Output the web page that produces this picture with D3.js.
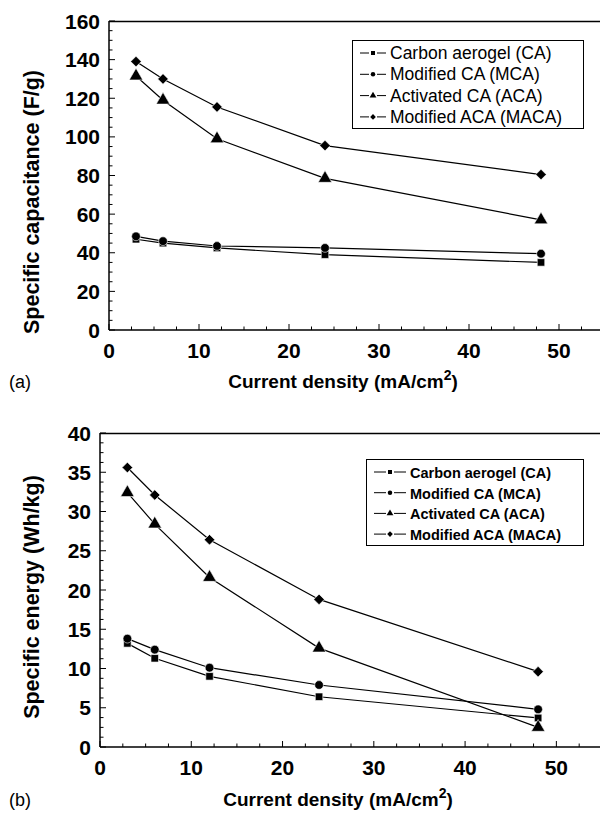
<!DOCTYPE html>
<html>
<head>
<meta charset="utf-8">
<script src="https://cdn.jsdelivr.net/npm/d3@7"></script>
<style>
  html, body { margin: 0; padding: 0; background: #fff; }
  svg { display: block; font-family: "Liberation Sans", Arial, Helvetica, sans-serif; }
</style>
</head>
<body>
<svg id="chart" width="600" height="816"></svg>
<script>
// ---------- DATA ----------
const currentDensity = [3, 6, 12, 24, 48];
const seriesNames = ["Carbon aerogel (CA)", "Modified CA (MCA)", "Activated CA (ACA)", "Modified ACA (MACA)"];
const seriesSymbols = ["square", "circle", "triangle", "diamond"];

// (a) Specific capacitance (F/g)
const capCA   = [47, 45, 42.5, 39, 35];
const capMCA  = [48.5, 46, 43.5, 42.5, 39.5];
const capACA  = [131.5, 119, 99, 78.5, 57];
const capMACA = [139, 130, 115.5, 95.5, 80.5];

// (b) Specific energy (Wh/kg)
const enCA   = [13.2, 11.3, 9.0, 6.4, 3.7];
const enMCA  = [13.8, 12.4, 10.1, 7.9, 4.8];
const enACA  = [32.4, 28.4, 21.6, 12.6, 2.5];
const enMACA = [35.6, 32.1, 26.4, 18.8, 9.6];

const xTicks = [0, 10, 20, 30, 40, 50];
const capTicks = [0, 20, 40, 60, 80, 100, 120, 140, 160];
const enTicks = [0, 5, 10, 15, 20, 25, 30, 35, 40];

// ---------- DRAW ----------
const svg = d3.select("#chart");

function symbolPath(kind, size) {
  if (kind === "square") return d3.symbol(d3.symbolSquare, size)();
  if (kind === "circle") return d3.symbol(d3.symbolCircle, size)();
  if (kind === "triangle") return d3.symbol(d3.symbolTriangle, size)();
  return d3.symbol(d3.symbolSquare, size)(); // diamond = rotated square
}

function drawPanel(cfg) {
  const g = svg.append("g");
  const x = d3.scaleLinear().domain([0, 55]).range(cfg.xr);
  const y = d3.scaleLinear().domain(cfg.ydom).range(cfg.yr);

  // top frame line
  g.append("line")
    .attr("x1", x(0)).attr("x2", 600)
    .attr("y1", y(cfg.ydom[1]) + 0.5).attr("y2", y(cfg.ydom[1]) + 0.5)
    .attr("stroke", "#000").attr("stroke-width", 1.5);

  // x axis (ticks inward)
  const xMinor = d3.range(0, 55.01, 2.5);
  g.selectAll(".xminor").data(xMinor).join("line")
    .attr("x1", d => x(d)).attr("x2", d => x(d))
    .attr("y1", y(0)).attr("y2", d => y(0) - (d % 10 === 0 ? 6 : 3.5))
    .attr("stroke", "#000").attr("stroke-width", 1);
  g.append("line")
    .attr("x1", x(0)).attr("x2", 600)
    .attr("y1", y(0)).attr("y2", y(0))
    .attr("stroke", "#000").attr("stroke-width", 1.5);
  g.selectAll(".xlab").data(xTicks).join("text")
    .attr("x", d => x(d)).attr("y", y(0) + 28)
    .attr("text-anchor", "middle")
    .attr("font-size", 21).attr("font-weight", "bold")
    .text(d => d);

  // y axis (ticks inward)
  const yMinor = d3.range(cfg.ydom[0], cfg.ydom[1] + 0.001, cfg.yMinorStep);
  g.selectAll(".yminor").data(yMinor).join("line")
    .attr("x1", x(0)).attr("x2", d => x(0) + (Math.abs(d / cfg.yMajorStep - Math.round(d / cfg.yMajorStep)) < 1e-6 ? 6 : 3.5))
    .attr("y1", d => y(d)).attr("y2", d => y(d))
    .attr("stroke", "#000").attr("stroke-width", 1);
  g.append("line")
    .attr("x1", x(0)).attr("x2", x(0))
    .attr("y1", y(cfg.ydom[0])).attr("y2", y(cfg.ydom[1]))
    .attr("stroke", "#000").attr("stroke-width", 1.5);
  g.selectAll(".ylab").data(cfg.yTicks).join("text")
    .attr("x", x(0) - 9).attr("y", d => y(d) + 7.5)
    .attr("text-anchor", "end")
    .attr("font-size", 21).attr("font-weight", "bold")
    .text(d => d);

  // y title
  g.append("text")
    .attr("transform", `translate(${cfg.yTitleX},${cfg.yTitleY}) rotate(-90)`)
    .attr("text-anchor", "middle")
    .attr("font-size", 21.5).attr("font-weight", "bold")
    .text(cfg.yTitle);

  // x title with superscript
  const xt = g.append("text")
    .attr("x", cfg.xTitleX).attr("y", cfg.xTitleY)
    .attr("text-anchor", "middle")
    .attr("font-size", 19).attr("font-weight", "bold");
  xt.append("tspan").text("Current density (mA/cm");
  xt.append("tspan").attr("dy", -8).attr("font-size", 14).text("2");
  xt.append("tspan").attr("dy", 8).text(")");

  // panel label
  g.append("text")
    .attr("x", 9).attr("y", cfg.xTitleY)
    .attr("font-size", 18)
    .text(cfg.panelLabel);

  // series lines and markers
  const line = d3.line().x((d, i) => x(currentDensity[i])).y(d => y(d));
  cfg.series.forEach((vals, si) => {
    g.append("path").attr("d", line(vals))
      .attr("fill", "none").attr("stroke", "#000").attr("stroke-width", 1.2);
  });
  cfg.series.forEach((vals, si) => {
    const kind = seriesSymbols[si];
    const size = kind === "square" ? 56 : kind === "circle" ? 60 : kind === "triangle" ? 80 : 56;
    g.selectAll(".m" + si).data(vals).join("path")
      .attr("d", symbolPath(kind, size))
      .attr("transform", (d, i) => `translate(${x(currentDensity[i])},${y(d)})` + (kind === "diamond" ? " rotate(45)" : ""))
      .attr("fill", "#000").attr("stroke", "#fff").attr("stroke-width", 0.6);
  });

  // legend
  const L = cfg.legend;
  g.append("rect")
    .attr("x", L.x + 0.5).attr("y", L.y + 0.5)
    .attr("width", L.w).attr("height", L.h)
    .attr("fill", "#fff").attr("stroke", "#000").attr("stroke-width", 1);
  seriesNames.forEach((name, si) => {
    const cy = L.y + L.row0 + si * L.dy;
    const lx = L.x + L.symX;
    const half = L.symW / 2;
    g.append("line").attr("x1", lx).attr("x2", lx + half - 4).attr("y1", cy).attr("y2", cy)
      .attr("stroke", "#000").attr("stroke-width", 1);
    g.append("line").attr("x1", lx + half + 4).attr("x2", lx + L.symW).attr("y1", cy).attr("y2", cy)
      .attr("stroke", "#000").attr("stroke-width", 1);
    const kind = seriesSymbols[si];
    g.append("path").attr("d", symbolPath(kind, kind === "triangle" ? 20 : 16))
      .attr("transform", `translate(${lx + half},${cy})` + (kind === "diamond" ? " rotate(45)" : ""))
      .attr("fill", "#000");
    g.append("text")
      .attr("x", lx + L.symW + 4).attr("y", cy + 6)
      .attr("font-size", L.fs).attr("font-weight", L.fw)
      .text(name);
  });
}

drawPanel({
  xr: [109, 604], ydom: [0, 160], yr: [330, 21],
  yTicks: capTicks, yMajorStep: 20, yMinorStep: 5,
  yTitle: "Specific capacitance (F/g)", yTitleX: 39, yTitleY: 202,
  xTitleX: 343, xTitleY: 388, panelLabel: "(a)",
  series: [capCA, capMCA, capACA, capMACA],
  legend: { x: 352, y: 40, w: 231, h: 88, row0: 13, dy: 21.3, symX: 8, symW: 26, fs: 17.5, fw: "normal" }
});

drawPanel({
  xr: [100, 602], ydom: [0, 40], yr: [747, 433],
  yTicks: enTicks, yMajorStep: 5, yMinorStep: 1.25,
  yTitle: "Specific energy (Wh/kg)", yTitleX: 39, yTitleY: 597,
  xTitleX: 338, xTitleY: 806, panelLabel: "(b)",
  series: [enCA, enMCA, enACA, enMACA],
  legend: { x: 366, y: 459, w: 217, h: 86, row0: 13, dy: 20.7, symX: 8, symW: 32, fs: 14.5, fw: "bold" }
});
</script>
</body>
</html>
